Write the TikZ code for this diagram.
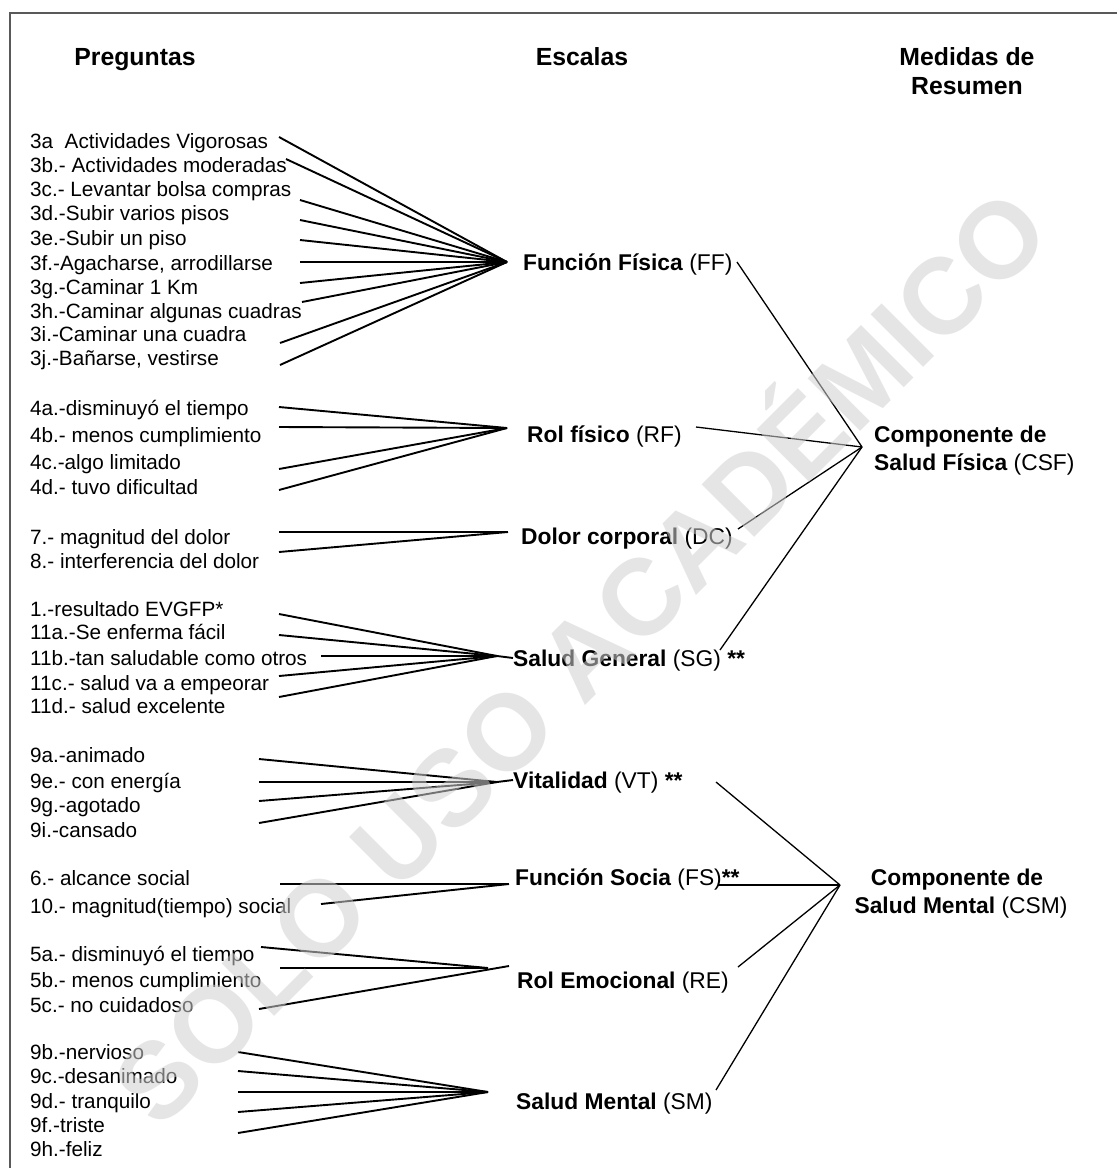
\documentclass[tikz,border=0pt]{standalone}
\usepackage{fontspec}
\setmainfont{Liberation Sans}
\begin{document}
\begin{tikzpicture}[x=1pt,y=-1pt,
  q/.style={anchor=west,inner sep=0pt,font=\fontsize{20.7}{24}\selectfont,text height=15pt,text depth=0pt},
  sc/.style={anchor=west,inner sep=0pt,font=\fontsize{22.8}{27}\selectfont,text height=16.3pt,text depth=0pt},
  scc/.style={anchor=center,inner sep=0pt,font=\fontsize{22.8}{27}\selectfont,text height=16.3pt,text depth=0pt},
  hd/.style={anchor=center,inner sep=0pt,font=\bfseries\fontsize{24.8}{29}\selectfont,text height=17.8pt,text depth=0pt},
  fan/.style={line width=1.9pt,black},
  link/.style={line width=1.3pt,black},
  frame/.style={line width=2pt,black!65}]
\useasboundingbox (0,0) rectangle (1117,1168);
\fill[white] (0,0) rectangle (1117,1168);
\draw[frame] (10,1172) -- (10,13) -- (1121,13);

% headings
\node[hd] (hPreg) at (135,57) {Preguntas};
\node[hd] (hEsc) at (582,57) {Escalas};
\node[hd] (hMed1) at (967,57) {Medidas de};
\node[hd] (hMed2) at (967,86) {Resumen};

% questions
\node[q] (q3a) at (30,141) {3a\ \ Actividades Vigorosas};
\node[q] (q3b) at (30,165) {3b.- Actividades moderadas};
\node[q] (q3c) at (30,189) {3c.- Levantar bolsa compras};
\node[q] (q3d) at (30,213) {3d.-Subir varios pisos};
\node[q] (q3e) at (30,238) {3e.-Subir un piso};
\node[q] (q3f) at (30,263) {3f.-Agacharse, arrodillarse};
\node[q] (q3g) at (30,287) {3g.-Caminar 1 Km};
\node[q] (q3h) at (30,311) {3h.-Caminar algunas cuadras};
\node[q] (q3i) at (30,334) {3i.-Caminar una cuadra};
\node[q] (q3j) at (30,358) {3j.-Bañarse, vestirse};

\node[q] (q4a) at (30,408) {4a.-disminuyó el tiempo};
\node[q] (q4b) at (30,435) {4b.- menos cumplimiento};
\node[q] (q4c) at (30,462) {4c.-algo limitado};
\node[q] (q4d) at (30,487) {4d.- tuvo dificultad};

\node[q] (q7) at (30,537) {7.- magnitud del dolor};
\node[q] (q8) at (30,561) {8.- interferencia del dolor};

\node[q] (q1) at (30,609) {1.-resultado EVGFP*};
\node[q] (q11a) at (30,632) {11a.-Se enferma fácil};
\node[q] (q11b) at (30,658) {11b.-tan saludable como otros};
\node[q] (q11c) at (30,683) {11c.- salud va a empeorar};
\node[q] (q11d) at (30,706) {11d.- salud excelente};

\node[q] (q9a) at (30,755) {9a.-animado};
\node[q] (q9e) at (30,781) {9e.- con energía};
\node[q] (q9g) at (30,805) {9g.-agotado};
\node[q] (q9i) at (30,830) {9i.-cansado};

\node[q] (q6) at (30,878) {6.- alcance social};
\node[q] (q10) at (30,906) {10.- magnitud(tiempo) social};

\node[q] (q5a) at (30,954) {5a.- disminuyó el tiempo};
\node[q] (q5b) at (30,980) {5b.- menos cumplimiento};
\node[q] (q5c) at (30,1005) {5c.- no cuidadoso};

\node[q] (q9b) at (30,1052) {9b.-nervioso};
\node[q] (q9c) at (30,1076) {9c.-desanimado};
\node[q] (q9d) at (30,1101) {9d.- tranquilo};
\node[q] (q9f) at (30,1125) {9f.-triste};
\node[q] (q9h) at (30,1149) {9h.-feliz};

% scales
\node[sc] (FF) at (523,262) {\textbf{Función Física} (FF)};
\node[sc] (RF) at (527,434) {\textbf{Rol físico} (RF)};
\node[sc] (DC) at (521,536) {\textbf{Dolor corporal} (DC)};
\node[sc] (SG) at (513,658) {\textbf{Salud General} (SG) \textbf{**}};
\node[sc] (VT) at (513,780) {\textbf{Vitalidad} (VT) \textbf{**}};
\node[sc] (FS) at (515,877) {\textbf{Función Socia} (FS)\textbf{**}};
\node[sc] (RE) at (517,980) {\textbf{Rol Emocional} (RE)};
\node[sc] (SM) at (516,1101) {\textbf{Salud Mental} (SM)};

% summary measures
\node[sc] (CSF1) at (874,434) {\textbf{Componente de}};
\node[sc] (CSF2) at (874,462) {\textbf{Salud Física} (CSF)};
\node[scc] (CSM1) at (957,877) {\textbf{Componente de}};
\node[scc] (CSM2) at (961,905) {\textbf{Salud Mental} (CSM)};

% convergence points
\coordinate (cFF) at (507,262);
\coordinate (cRF) at (507,428);
\coordinate (cDC) at (508,532);
\coordinate (cSG) at (497,656);
\coordinate (cVT) at (497,782);
\coordinate (cFS) at (509,884);
\coordinate (cRE) at (488,968);
\coordinate (cREb) at (509,966);
\coordinate (cSM) at (488,1092);
\coordinate (cCSF) at (862,447);
\coordinate (cCSM) at (840,885);

% fans: questions -> scales
\foreach \n/\x/\y in {a/279/137,b/286/159,c/300/200,d/300/220,e/300/240,f/300/262,g/300/283,h/302/302,i/280/343,j/280/365}
  {\coordinate (f3\n) at (\x,\y); \draw[fan] (f3\n) -- (cFF);}
\foreach \n/\x/\y in {a/279/407,b/279/427,c/279/469,d/279/490}
  {\coordinate (f4\n) at (\x,\y); \draw[fan] (f4\n) -- (cRF);}
\foreach \n/\x/\y in {7/279/532,8/279/552}
  {\coordinate (fd\n) at (\x,\y); \draw[fan] (fd\n) -- (cDC);}
\foreach \n/\x/\y in {1/279/614,a/279/635,b/321/656,c/279/676,d/279/697}
  {\coordinate (fg\n) at (\x,\y); \draw[fan] (fg\n) -- (cSG);}
\draw[fan] (cSG) -- (SG.west);
\foreach \n/\x/\y in {a/259/759,e/259/782,g/259/801,i/259/823}
  {\coordinate (fv\n) at (\x,\y); \draw[fan] (fv\n) -- (cVT);}
\draw[fan] (cVT) -- (VT.west);
\foreach \n/\x/\y in {6/280/884,10/321/904}
  {\coordinate (fs\n) at (\x,\y); \draw[fan] (fs\n) -- (cFS);}
\coordinate (fe5a) at (261,947); \draw[fan] (fe5a) -- (cRE);
\coordinate (fe5b) at (280,968); \draw[fan] (fe5b) -- (cRE);
\coordinate (fe5c) at (259,1009); \draw[fan] (fe5c) -- (cREb);
\foreach \n/\x/\y in {b/238/1052,c/238/1071,d/238/1092,f/238/1112,h/238/1133}
  {\coordinate (fm\n) at (\x,\y); \draw[fan] (fm\n) -- (cSM);}

% links: scales -> summary
\coordinate (lFF) at (737,262);
\coordinate (lRF) at (696,427);
\coordinate (lDC) at (738,529);
\coordinate (lSG) at (720,650);
\draw[link] (lFF) -- (cCSF);
\draw[link] (lRF) -- (cCSF);
\draw[link] (lDC) -- (cCSF);
\draw[link] (lSG) -- (cCSF);
\coordinate (lVT) at (716,782);
\coordinate (lFS) at (718,885);
\coordinate (lRE) at (738,967);
\coordinate (lSM) at (716,1090);
\draw[link] (lVT) -- (cCSM);
\draw[link] (lFS) -- (cCSM);
\draw[link] (lRE) -- (cCSM);
\draw[link] (lSM) -- (cCSM);

% watermark
\node[rotate=45,inner sep=0pt,font=\bfseries\fontsize{108}{108}\selectfont,
      text=black!18,text opacity=0.55,text height=77pt,text depth=0pt]
  (wm) at (580,657) {SOLO USO ACADÉMICO};
\end{tikzpicture}
\end{document}
